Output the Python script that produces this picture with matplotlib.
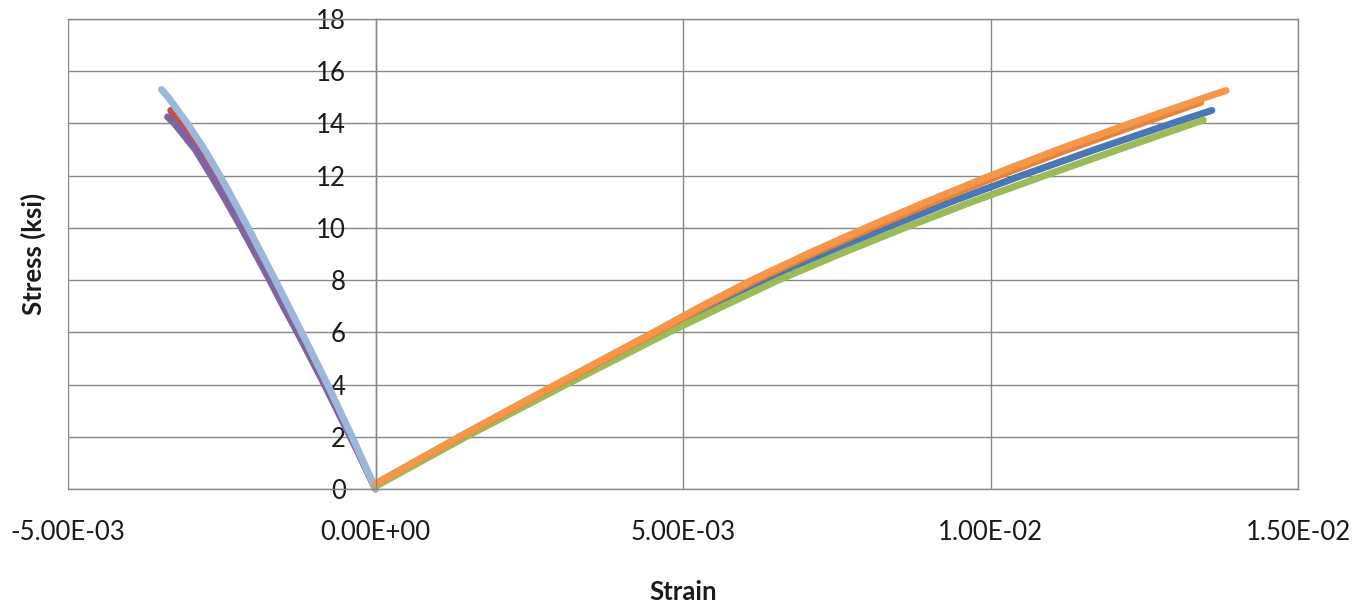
import matplotlib
matplotlib.use("Agg")
import matplotlib.pyplot as plt
from matplotlib.ticker import FuncFormatter

plt.rcParams['font.family'] = ['Lato', 'DejaVu Sans']

# Compression tests (strain negative), stress in ksi
comp_red_stress = [0, 1, 2, 3, 4, 5, 6, 7, 8, 9, 10, 11, 12, 13, 14, 14.5]
comp_red_strain = [0, -0.20e-3, -0.39e-3, -0.60e-3, -0.80e-3, -1.02e-3, -1.23e-3, -1.46e-3,
                   -1.68e-3, -1.91e-3, -2.13e-3, -2.37e-3, -2.61e-3, -2.87e-3, -3.16e-3, -3.33e-3]

comp_purple_stress = [0, 1, 2, 3, 4, 5, 6, 7, 8, 9, 10, 11, 12, 13, 14, 14.25]
comp_purple_strain = [0, -0.20e-3, -0.41e-3, -0.62e-3, -0.83e-3, -1.05e-3, -1.27e-3, -1.50e-3,
                      -1.72e-3, -1.95e-3, -2.18e-3, -2.42e-3, -2.67e-3, -2.93e-3, -3.27e-3, -3.38e-3]

comp_lblue_stress = [0, 1, 2, 3, 4, 5, 6, 7, 8, 9, 10, 11, 12, 13, 14, 15, 15.3]
comp_lblue_strain = [0, -0.19e-3, -0.38e-3, -0.58e-3, -0.78e-3, -0.99e-3, -1.20e-3, -1.415e-3,
                     -1.63e-3, -1.85e-3, -2.07e-3, -2.295e-3, -2.53e-3, -2.78e-3, -3.06e-3,
                     -3.37e-3, -3.48e-3]

# Tension tests
tens_blue_stress = [0.15, 2, 4, 6, 7, 8, 9, 10, 11, 12, 13, 14, 14.5]
tens_blue_strain = [0, 1.43e-3, 3.05e-3, 4.70e-3, 5.53e-3, 6.40e-3, 7.32e-3, 8.30e-3,
                    9.36e-3, 10.50e-3, 11.70e-3, 12.95e-3, 13.60e-3]

tens_green_stress = [0.1, 2, 4, 6, 7, 8, 9, 10, 11, 12, 13, 14, 14.13]
tens_green_strain = [0, 1.47e-3, 3.10e-3, 4.77e-3, 5.65e-3, 6.55e-3, 7.55e-3, 8.60e-3,
                     9.70e-3, 10.88e-3, 12.08e-3, 13.30e-3, 13.46e-3]

tens_dorange_stress = [0.2, 2, 4, 6, 7, 8, 9, 10, 11, 12, 13, 14, 14.81]
tens_dorange_strain = [0, 1.38e-3, 2.96e-3, 4.56e-3, 5.36e-3, 6.19e-3, 7.10e-3, 8.07e-3,
                       9.08e-3, 10.14e-3, 11.26e-3, 12.45e-3, 13.42e-3]

tens_orange_stress = [0.2, 2, 4, 6, 7, 8, 9, 10, 11, 12, 13, 14, 15, 15.26]
tens_orange_strain = [0, 1.36e-3, 2.93e-3, 4.52e-3, 5.30e-3, 6.12e-3, 7.02e-3, 7.97e-3,
                      8.96e-3, 10.00e-3, 11.10e-3, 12.27e-3, 13.50e-3, 13.83e-3]

x_ticks = [-5e-3, 0, 5e-3, 1e-2, 1.5e-2]
y_ticks = list(range(0, 19, 2))

W, H = 1370, 608
fig = plt.figure(figsize=(W / 100, H / 100), dpi=100)
ax = fig.add_axes([68 / W, 119 / H, 1230 / W, 470 / H])
ax.set_xlim(-5e-3, 1.5e-2)
ax.set_ylim(0, 18)
ax.set_xticks(x_ticks)
ax.set_yticks(y_ticks)
ax.xaxis.set_major_formatter(FuncFormatter(lambda v, p: f"{v:.2E}"))

grid_c = '#878787'
ax.grid(True, color=grid_c, lw=1.0)
ax.set_axisbelow(True)
for s in ax.spines.values():
    s.set_color(grid_c)
    s.set_linewidth(1.0)
ax.spines['left'].set_position(('data', 0))

ax.tick_params(axis='y', length=0, pad=21.5, labelsize=18.5, labelcolor='#1a1a1a')
ax.tick_params(axis='x', length=0, pad=22, labelsize=18.5, labelcolor='#1a1a1a')

style = dict(lw=5.0, solid_capstyle='round', solid_joinstyle='round', clip_on=False)

ax.plot(comp_red_strain, comp_red_stress, color='#C0504D', **style)
ax.plot(comp_purple_strain, comp_purple_stress, color='#8064A2', **style)
ax.plot(comp_lblue_strain, comp_lblue_stress, color='#9BB7D9', **style)

ax.plot(tens_blue_strain, tens_blue_stress, color='#4A78B5', **style)
ax.plot(tens_green_strain, tens_green_stress, color='#9BBB59', **style)
ax.plot(tens_dorange_strain, tens_dorange_stress, color='#E2843E', **style)
ax.plot(tens_orange_strain, tens_orange_stress, color='#F79646', **style)

fig.text(683 / W, 1 - 592 / H, 'Strain', ha='center', va='center',
         fontsize=18.5, fontweight='bold', color='#1a1a1a')
fig.text(33 / W, 1 - 254 / H, 'Stress (ksi)', ha='center', va='center',
         rotation=90, fontsize=18.5, fontweight='bold', color='#1a1a1a')

fig.savefig('out.png', dpi=100, facecolor='white')
